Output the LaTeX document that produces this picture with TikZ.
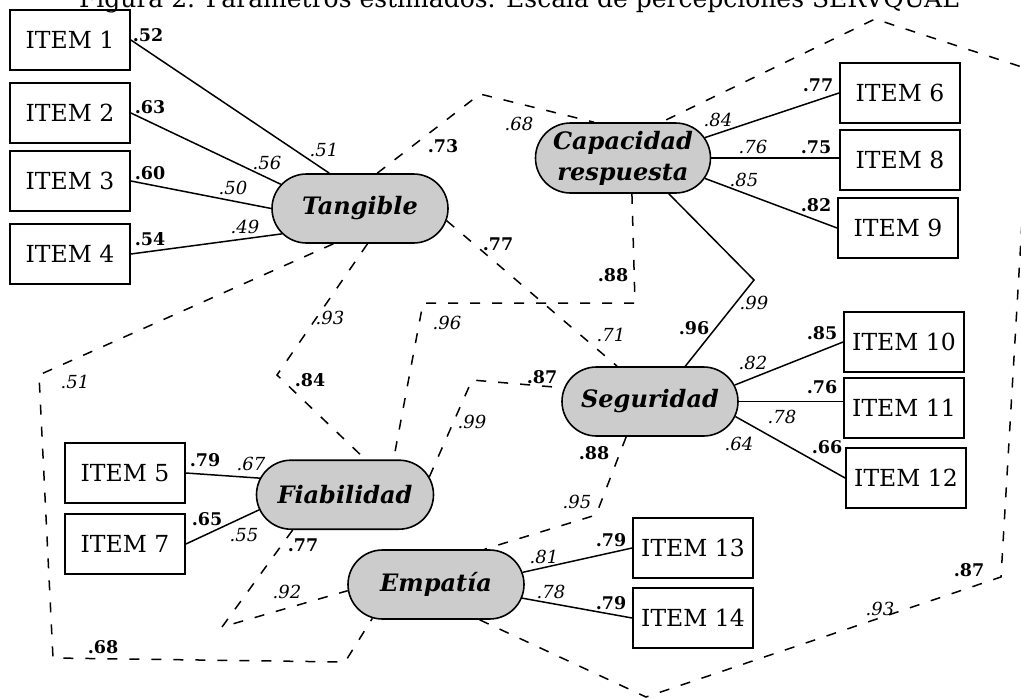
\documentclass[tikz,border=0pt]{standalone}
\usepackage{fontspec}
\setmainfont{DejaVu Serif}
\usetikzlibrary{shapes.misc}
\begin{document}
\begin{tikzpicture}[x=1pt,y=-1pt,
  item/.style={draw, line width=1.8pt, minimum width=120pt, minimum height=60pt, inner sep=0pt, font=\fontsize{23.5}{28}\selectfont},
  latent/.style={draw, line width=1.6pt, fill=black!20, rounded rectangle, minimum width=176pt, minimum height=69pt, inner sep=0pt, align=center, font=\fontsize{24}{31}\selectfont\bfseries\itshape},
  load/.style={line width=1.5pt},
  cov/.style={line width=1.5pt, dash pattern=on 10pt off 12pt},
  bl/.style={font=\fontsize{17.5}{20}\selectfont\bfseries, inner sep=0pt},
  il/.style={font=\fontsize{18}{20}\selectfont\itshape, inner sep=0pt},
]
\useasboundingbox (0,0) rectangle (1021,699);

% title (top part cut off in the reference)
\node[anchor=base, inner sep=0pt, font=\fontsize{25}{30}\selectfont] (title) at (519,7) {Figura 2. Parámetros estimados. Escala de percepciones SERVQUAL};

% observed items
\node[item] (item1) at (70,40) {ITEM 1};
\node[item] (item2) at (70,113) {ITEM 2};
\node[item] (item3) at (70,181) {ITEM 3};
\node[item] (item4) at (70,254) {ITEM 4};
\node[item] (item5) at (125,473) {ITEM 5};
\node[item] (item7) at (125,544) {ITEM 7};
\node[item] (item6) at (900,93) {ITEM 6};
\node[item] (item8) at (900,160) {ITEM 8};
\node[item] (item9) at (898,228) {ITEM 9};
\node[item] (item10) at (904,342) {ITEM 10};
\node[item] (item11) at (904,408) {ITEM 11};
\node[item] (item12) at (906,478) {ITEM 12};
\node[item] (item13) at (693,548) {ITEM 13};
\node[item] (item14) at (693,618) {ITEM 14};

% latent factors
\node[latent] (tang) at (360,208.5) {Tangible};
\node[latent, minimum width=175pt, minimum height=70pt] (cap) at (623,158) {Capacidad\\respuesta};
\node[latent] (seg) at (650,401.5) {Seguridad};
\node[latent, minimum width=177pt] (fiab) at (345,494.7) {Fiabilidad};
\node[latent] (emp) at (436,584.5) {Empatía};

% bend points
\coordinate (tc1) at (480,94);
\coordinate (cs1) at (754,280);
\coordinate (tf1) at (277,375);
\coordinate (cf1) at (635,303);
\coordinate (cf2) at (423,303);
\coordinate (fs1) at (472,380);
\coordinate (se1) at (596,515);
\coordinate (fe1) at (222,627);
\coordinate (te1) at (39,375);
\coordinate (te2) at (53,658);
\coordinate (te3) at (345,662);
\coordinate (ec1) at (646,697);
\coordinate (ec2) at (1001,577);
\coordinate (ec3) at (1031,70);
\coordinate (ec4) at (875,19);

% loadings
\draw[load] (item1.east) -- (tang.131);
\draw[load] (item2.east) -- (tang.163);
\draw[load] (item3.east) -- (tang.180);
\draw[load] (item4.east) -- (tang.198);
\draw[load] (cap.14) -- (item6.west);
\draw[load] (cap.east) -- (cap.east -| item8.west);
\draw[load] (cap.-14) -- (item9.west);
\draw[load] (cap.-38) -- (cs1) -- (seg.45);
\draw[load] (seg.11) -- (item10.west);
\draw[load] (seg.east) -- (seg.east -| item11.west);
\draw[load] (seg.-10) -- (item12.west);
\draw[load] (item5.east) -- (fiab.169.5);
\draw[load] (item7.east) -- (fiab.190);
\draw[load] (emp.8) -- (item13.west);
\draw[load] (emp.-9) -- (item14.west);

% correlations
\draw[cov] (tang.64) -- (tc1) -- (cap.129.6);
\draw[cov] (tang.-8.7) -- (seg.133);
\draw[cov] (tang.-78.6) -- (tf1) -- (fiab.60);
\draw[cov] (tang.-127.5) -- (te1) -- (te2) -- (te3) -- (emp.208);
\draw[cov] (cap.-76) -- (cf1) -- (cf2) -- (fiab.36.4);
\draw[cov] (fiab.12.2) -- (fs1) -- (seg.171);
\draw[cov] (fiab.-146) -- (fe1) -- (emp.184.7);
\draw[cov] (seg.-124) -- (se1) -- (emp.36.5);
\draw[cov] (emp.-39) -- (ec1) -- (ec2) -- (ec3) -- (ec4) -- (cap.43);

% bold labels
\node[bl] (b1) at (148,35) {.52};
\node[bl] (b2) at (150,107) {.63};
\node[bl] (b3) at (150,173) {.60};
\node[bl] (b4) at (150,239) {.54};
\node[bl] (b5) at (443,146) {.73};
\node[bl] (b6) at (498,244) {.77};
\node[bl] (b7) at (613,275) {.88};
\node[bl] (b8) at (310,380) {.84};
\node[bl] (b9) at (542,377) {.87};
\node[bl] (b10) at (694,328) {.96};
\node[bl] (b11) at (818,85) {.77};
\node[bl] (b12) at (816,147) {.75};
\node[bl] (b13) at (816,205) {.82};
\node[bl] (b14) at (822,333) {.85};
\node[bl] (b15) at (822,387) {.76};
\node[bl] (b16) at (827,447) {.66};
\node[bl] (b17) at (594,453) {.88};
\node[bl] (b18) at (205,460) {.79};
\node[bl] (b19) at (207,519) {.65};
\node[bl] (b20) at (303,545) {.77};
\node[bl] (b21) at (611,540) {.79};
\node[bl] (b22) at (611,603) {.79};
\node[bl] (b23) at (103,647) {.68};
\node[bl] (b24) at (969,570) {.87};

% italic labels
\node[il] (i1) at (324,150) {.51};
\node[il] (i2) at (267,163) {.56};
\node[il] (i3) at (233,188) {.50};
\node[il] (i4) at (245,227) {.49};
\node[il] (i5) at (519,124) {.68};
\node[il] (i6) at (718,120) {.84};
\node[il] (i7) at (753,147) {.76};
\node[il] (i8) at (744,180) {.85};
\node[il] (i9) at (330,318) {.93};
\node[il] (i10) at (447,323) {.96};
\node[il] (i11) at (611,335) {.71};
\node[il] (i12) at (754,303) {.99};
\node[il] (i13) at (472,422) {.99};
\node[il] (i14) at (75,382) {.51};
\node[il] (i15) at (753,363) {.82};
\node[il] (i16) at (782,417) {.78};
\node[il] (i17) at (739,444) {.64};
\node[il] (i18) at (251,464) {.67};
\node[il] (i19) at (244,535) {.55};
\node[il] (i20) at (577,502) {.95};
\node[il] (i21) at (287,592) {.92};
\node[il] (i22) at (544,557) {.81};
\node[il] (i23) at (551,592) {.78};
\node[il] (i24) at (880,609) {.93};
\end{tikzpicture}
\end{document}
